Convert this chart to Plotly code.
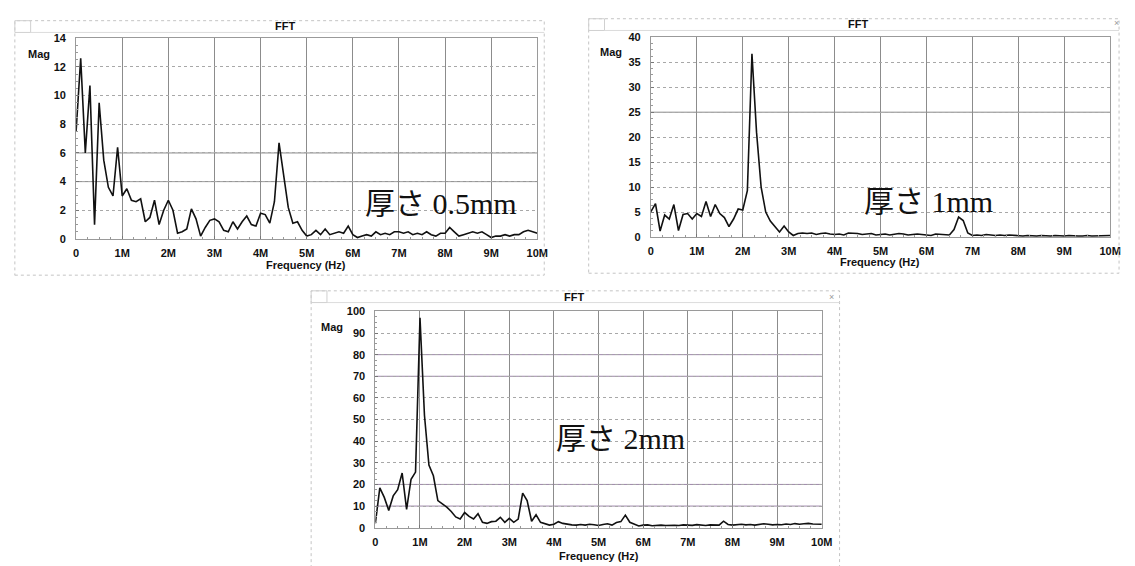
import plotly.graph_objects as go

W, H = 1135, 566

# ---------------- data (MHz, magnitude) ----------------
freq_mhz = [round(i * 0.1, 1) for i in range(101)]

mag_05mm = [7.5, 12.6, 6.0, 10.7, 1.0, 9.5, 5.5, 3.6, 3.0, 6.4,
            3.0, 3.5, 2.7, 2.6, 2.8, 1.2, 1.5, 2.7, 1.0, 2.0,
            2.7, 2.0, 0.4, 0.5, 0.7, 2.1, 1.4, 0.2, 0.8, 1.3,
            1.4, 1.2, 0.6, 0.5, 1.2, 0.7, 1.2, 1.6, 1.0, 0.9,
            1.8, 1.7, 1.1, 2.6, 6.7, 4.6, 2.2, 1.1, 1.2, 0.6,
            0.2, 0.3, 0.6, 0.3, 0.7, 0.3, 0.4, 0.5, 0.4, 0.9,
            0.3, 0.1, 0.2, 0.3, 0.2, 0.5, 0.3, 0.4, 0.3, 0.5,
            0.5, 0.4, 0.5, 0.3, 0.4, 0.3, 0.5, 0.3, 0.2, 0.4,
            0.4, 0.8, 0.5, 0.2, 0.3, 0.4, 0.5, 0.4, 0.5, 0.3,
            0.1, 0.2, 0.2, 0.3, 0.2, 0.3, 0.3, 0.5, 0.6, 0.5,
            0.4]

mag_1mm = [5.1, 6.7, 1.2, 4.4, 3.6, 6.5, 1.3, 4.5, 4.7, 3.6,
           4.7, 4.1, 7.1, 4.1, 6.5, 4.7, 3.9, 2.1, 3.6, 5.6,
           5.4, 9.3, 36.7, 21.0, 10.0, 5.0, 3.2, 2.0, 1.0, 2.2,
           1.0, 0.3, 0.7, 0.8, 0.7, 0.8, 0.5, 0.7, 0.8, 0.6,
           0.5, 0.6, 0.4, 0.8, 0.8, 0.7, 0.5, 0.6, 0.7, 0.4,
           0.5, 0.6, 0.4, 0.5, 0.7, 0.6, 0.4, 0.5, 0.6, 0.5,
           0.4, 0.3, 0.6, 0.5, 0.5, 0.4, 1.5, 4.0, 3.3, 0.8,
           0.3, 0.4, 0.3, 0.5, 0.4, 0.3, 0.4, 0.3, 0.4, 0.3,
           0.2, 0.2, 0.3, 0.2, 0.2, 0.3, 0.2, 0.2, 0.3, 0.2,
           0.2, 0.3, 0.2, 0.2, 0.2, 0.3, 0.2, 0.2, 0.3, 0.3,
           0.3]

mag_2mm = [2.0, 18.4, 14.0, 8.0, 14.7, 17.6, 25.3, 8.5, 22.4, 25.7,
           97.0, 52.0, 29.0, 24.0, 12.5, 11.0, 9.5, 7.5, 5.0, 4.0,
           7.0, 5.2, 4.0, 6.5, 2.5, 2.0, 2.8, 3.0, 4.8, 2.5,
           4.3, 2.5, 4.0, 16.0, 12.5, 3.0, 6.0, 2.5, 1.8, 1.2,
           1.6, 2.8, 2.0, 1.6, 1.3, 1.2, 1.5, 1.2, 1.6, 1.4,
           1.0, 1.5, 1.8, 1.2, 2.4, 2.8, 5.8, 2.5, 1.8, 0.8,
           1.2, 1.3, 0.9, 1.1, 1.2, 1.0, 1.2, 1.1, 1.0, 1.3,
           1.2, 1.1, 1.4, 1.2, 1.0, 1.3, 1.1, 1.2, 3.0, 1.5,
           1.2, 1.4, 1.6, 1.3, 1.5, 1.2, 1.4, 1.8, 1.6, 1.3,
           1.5, 1.4, 1.7, 1.5, 1.9, 1.6, 1.8, 2.0, 1.7, 1.8,
           1.6]

x_tick_vals = list(range(11))
x_tick_text = ["0", "1M", "2M", "3M", "4M", "5M", "6M", "7M", "8M", "9M", "10M"]

labels = ["厚さ 0.5mm", "厚さ 1mm", "厚さ 2mm"]
y_ranges = [14, 40, 100]
y_dticks = [2, 5, 10]


def px(x):
    return x / W


def py(y):
    return 1 - y / H


# panel geometry in pixels
panels = [
    dict(plot=(74, 541, 33, 238), win=(12, 548, 15, 275), bar=27, fft=(286, 20),
         mag=(36, 49), xt=(307, 265), lab=(443, 202), close=None,
         solid=[4, 6], solidcol="#8a8a8a"),
    dict(plot=(656, 1121, 32, 236), win=(593, 1130, 13, 273), bar=25, fft=(866, 18),
         mag=(616, 47), xt=(888, 262), lab=(937, 200), close=(1127, 17),
         solid=[25], solidcol="#8a8a8a"),
    dict(plot=(377, 829, 312, 533), win=(312, 847, 291, 580), bar=303, fft=(578, 297),
         mag=(333, 328), xt=(603, 562), lab=(625, 442), close=(839, 297),
         solid=[70, 80, 10, 20], solidcol="#9c86a8"),
]

series = [mag_05mm, mag_1mm, mag_2mm]

fig = go.Figure()
shapes = []
annotations = []
tickfont = dict(family="Liberation Sans, Arial", size=11, color="#111", weight="bold")


def label(text, xy, size, family="Liberation Sans, Arial", color="#111"):
    return dict(text=text, x=px(xy[0]), y=py(xy[1]), xref="paper", yref="paper",
                xanchor="center", yanchor="middle", showarrow=False,
                font=dict(family=family, size=size, color=color))


for i, (p, ys) in enumerate(zip(panels, series)):
    n = "" if i == 0 else str(i + 1)
    xa, ya = "x" + n, "y" + n
    fig.add_trace(go.Scatter(x=freq_mhz, y=ys, mode="lines",
                             line=dict(color="#111", width=1.6),
                             xaxis=xa, yaxis=ya, showlegend=False,
                             hoverinfo="skip"))
    x0, x1, y0, y1 = p["plot"]
    common = dict(showline=True, linecolor="#9a9a9a", linewidth=1, mirror=True,
                  zeroline=False, tickfont=tickfont, fixedrange=True)
    fig.layout["xaxis" + n] = dict(
        domain=[px(x0), px(x1)], anchor=ya, range=[0, 10],
        tickvals=x_tick_vals, ticktext=x_tick_text,
        showgrid=True, gridcolor="#8c8c8c", gridwidth=1,
        ticks="inside", ticklen=3, tickcolor="#777", ticklabelstandoff=4,
        minor=dict(ticks="inside", ticklen=2, tickcolor="#999", dtick=0.25,
                   showgrid=False),
        **common)
    fig.layout["yaxis" + n] = dict(
        domain=[py(y1), py(y0)], anchor=xa, range=[0, y_ranges[i]],
        dtick=y_dticks[i], showgrid=True, gridcolor="#a8a8a8", gridwidth=1,
        griddash="dot", ticks="inside", ticklen=3, tickcolor="#777",
        ticklabelstandoff=7,
        minor=dict(ticks="inside", ticklen=2, tickcolor="#999",
                   dtick=y_dticks[i] / 4, showgrid=False),
        **common)
    # darker solid horizontal grid lines
    for v in p["solid"]:
        shapes.append(dict(type="line", xref=xa, yref=ya, x0=0, x1=10, y0=v, y1=v,
                           line=dict(color=p["solidcol"], width=1), layer="below"))
    # window frame
    wx0, wx1, wy0, wy1 = p["win"]
    shapes.append(dict(type="rect", xref="paper", yref="paper",
                       x0=px(wx0), x1=px(wx1), y0=py(wy1), y1=py(wy0),
                       line=dict(color="#c4c4c4", width=1, dash="dot")))
    shapes.append(dict(type="line", xref="paper", yref="paper",
                       x0=px(wx0 + 16), x1=px(wx1), y0=py(p["bar"]), y1=py(p["bar"]),
                       line=dict(color="#dcdcdc", width=1)))
    shapes.append(dict(type="rect", xref="paper", yref="paper",
                       x0=px(wx0), x1=px(wx0 + 16), y0=py(p["bar"]), y1=py(wy0),
                       line=dict(color="#d0d0d0", width=1)))
    # texts
    annotations.append(label("<b>FFT</b>", p["fft"], 11))
    annotations.append(label("<b>Mag</b>", p["mag"], 11))
    annotations.append(label("<b>Frequency (Hz)</b>", p["xt"], 11))
    annotations.append(label(labels[i], p["lab"], 30,
                             family="Liberation Serif, Noto Sans CJK JP"))
    if p["close"]:
        annotations.append(label("×", p["close"], 9, color="#999"))

fig.update_layout(width=W, height=H, margin=dict(l=0, r=0, t=0, b=0),
                  paper_bgcolor="white", plot_bgcolor="white",
                  shapes=shapes, annotations=annotations, showlegend=False)

fig.write_html("out.html", config={"displayModeBar": False})
